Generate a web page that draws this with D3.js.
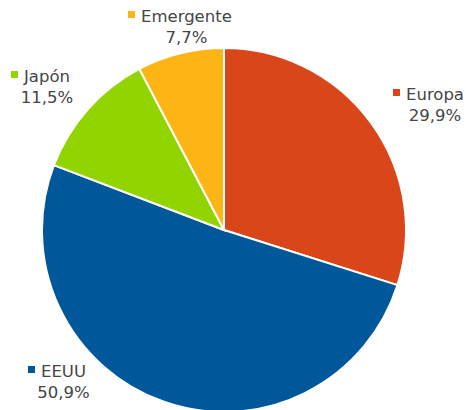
<!DOCTYPE html>
<html><head><meta charset="utf-8">
<script src="https://cdn.jsdelivr.net/npm/d3@7"></script>
<style>body{margin:0;background:#fff}svg{display:block}</style>
</head><body>
<svg id="c" width="466" height="410"></svg>
<script>
const categories = ["Europa", "EEUU", "Japón", "Emergente"];
const values = [29.9, 50.9, 11.5, 7.7];
const valueLabels = ["29,9%", "50,9%", "11,5%", "7,7%"];
const colors = ["#D9461A", "#00589A", "#92D400", "#FDB515"];

const svg = d3.select("#c");
const cx = 224, cy = 230, r = 182;
const g = svg.append("g").attr("transform", `translate(${cx},${cy})`);
const pie = d3.pie().sort(null).value(d => d)(values);
const arc = d3.arc().innerRadius(0).outerRadius(r);
g.selectAll("path").data(pie).enter().append("path")
  .attr("d", arc)
  .attr("fill", (d, i) => colors[i])
  .attr("stroke", "#fff").attr("stroke-width", 2);

// label anchor positions (left of marker, baseline of first line)
const labelPos = [[393, 100], [28, 377], [11, 82], [128, 22]];
const fs = 16.5;
categories.forEach((c, i) => {
  const [x, y] = labelPos[i];
  const lg = svg.append("g").attr("transform", `translate(${x},${y})`);
  lg.append("rect").attr("x", 0).attr("y", -11).attr("width", 7).attr("height", 7).attr("fill", colors[i]);
  const t = lg.append("text").attr("x", 13).attr("y", 0)
    .attr("font-family", "DejaVu Sans").attr("font-size", fs).attr("fill", "#454545").text(c);
  const w = t.node().getComputedTextLength();
  lg.append("text").attr("x", 13 + w / 2).attr("y", 21).attr("text-anchor", "middle")
    .attr("font-family", "DejaVu Sans").attr("font-size", fs).attr("fill", "#454545").text(valueLabels[i]);
});
</script>
</body></html>
